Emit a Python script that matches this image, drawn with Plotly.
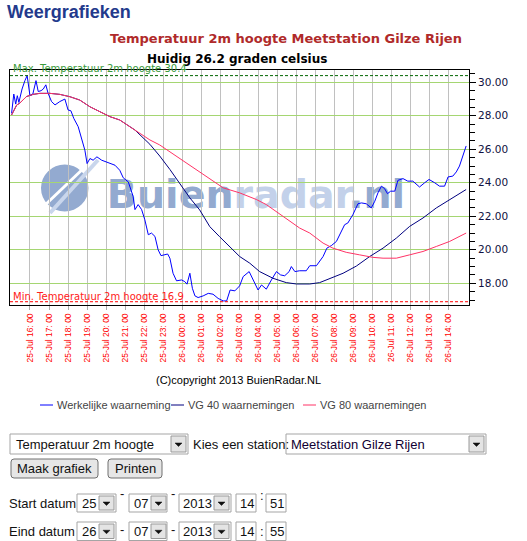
import plotly.graph_objects as go

# ---------------- data ----------------
blue_times = ["2013-07-25 15:02","2013-07-25 15:09","2013-07-25 15:15","2013-07-25 15:20","2013-07-25 15:25","2013-07-25 15:35","2013-07-25 15:44","2013-07-25 15:51","2013-07-25 15:57","2013-07-25 16:00","2013-07-25 16:09","2013-07-25 16:19","2013-07-25 16:26","2013-07-25 16:35","2013-07-25 16:42","2013-07-25 16:50","2013-07-25 16:57","2013-07-25 17:08","2013-07-25 17:19","2013-07-25 17:34","2013-07-25 17:50","2013-07-25 18:00","2013-07-25 18:09","2013-07-25 18:18","2013-07-25 18:32","2013-07-25 18:43","2013-07-25 18:53","2013-07-25 19:00","2013-07-25 19:09","2013-07-25 19:19","2013-07-25 19:31","2013-07-25 19:46","2013-07-25 20:01","2013-07-25 20:28","2013-07-25 20:43","2013-07-25 20:54","2013-07-25 21:10","2013-07-25 21:20","2013-07-25 21:25","2013-07-25 21:31","2013-07-25 21:41","2013-07-25 21:52","2013-07-25 22:02","2013-07-25 22:13","2013-07-25 22:23","2013-07-25 22:34","2013-07-25 22:44","2013-07-25 22:53","2013-07-25 23:05","2013-07-25 23:14","2013-07-25 23:21","2013-07-25 23:31","2013-07-25 23:42","2013-07-25 23:58","2013-07-26 00:08","2013-07-26 00:15","2013-07-26 00:24","2013-07-26 00:32","2013-07-26 00:40","2013-07-26 00:50","2013-07-26 01:06","2013-07-26 01:22","2013-07-26 01:37","2013-07-26 01:53","2013-07-26 02:09","2013-07-26 02:20","2013-07-26 02:31","2013-07-26 02:46","2013-07-26 03:01","2013-07-26 03:12","2013-07-26 03:31","2013-07-26 03:43","2013-07-26 03:59","2013-07-26 04:10","2013-07-26 04:25","2013-07-26 04:41","2013-07-26 04:57","2013-07-26 05:10","2013-07-26 05:23","2013-07-26 05:37","2013-07-26 05:44","2013-07-26 05:55","2013-07-26 06:10","2013-07-26 06:31","2013-07-26 06:42","2013-07-26 07:03","2013-07-26 07:13","2013-07-26 07:24","2013-07-26 07:36","2013-07-26 07:50","2013-07-26 08:06","2013-07-26 08:22","2013-07-26 08:32","2013-07-26 08:42","2013-07-26 08:58","2013-07-26 09:14","2013-07-26 09:25","2013-07-26 09:40","2013-07-26 09:56","2013-07-26 10:07","2013-07-26 10:17","2013-07-26 10:28","2013-07-26 10:38","2013-07-26 10:47","2013-07-26 10:57","2013-07-26 11:10","2013-07-26 11:20","2013-07-26 11:36","2013-07-26 11:51","2013-07-26 12:07","2013-07-26 12:28","2013-07-26 12:44","2013-07-26 12:58","2013-07-26 13:16","2013-07-26 13:31","2013-07-26 13:47","2013-07-26 13:58","2013-07-26 14:13","2013-07-26 14:24","2013-07-26 14:34","2013-07-26 14:45","2013-07-26 14:55"]
blue_values = [28.15,29.3,28.7,29.2,28.8,29.6,30.1,30.4,29.6,29.2,29.3,30.1,29.45,29.5,29.6,29.85,29.35,28.85,28.65,28.85,29.0,28.35,28.3,27.85,27.35,26.55,25.95,25.15,25.45,25.35,25.55,25.35,25.25,25.05,24.75,24.3,24.05,23.55,23.2,22.4,22.7,22.4,21.8,20.9,21.0,20.8,20.0,19.65,19.7,19.75,19.5,18.6,18.15,18.2,18.1,17.95,18.6,17.7,17.25,17.15,17.25,17.4,17.35,17.1,16.95,16.95,17.6,17.55,17.85,18.4,18.7,18.2,17.6,17.9,17.65,18.2,18.7,18.5,18.45,18.7,19.0,18.7,18.75,18.75,19.05,19.05,19.3,19.6,20.1,20.25,20.5,21.1,21.5,21.6,22.1,22.75,22.8,22.75,22.5,22.9,23.4,23.8,23.65,23.35,23.5,23.5,24.15,24.25,24.1,24.1,23.75,24.0,24.2,24.0,23.8,23.8,24.35,24.4,24.65,25.0,25.65,26.2]

vg40_times = ["2013-07-25 15:02","2013-07-25 15:18","2013-07-25 15:28","2013-07-25 15:49","2013-07-25 16:10","2013-07-25 16:31","2013-07-25 17:03","2013-07-25 17:34","2013-07-25 18:06","2013-07-25 18:37","2013-07-25 19:09","2013-07-25 19:40","2013-07-25 20:12","2013-07-25 20:43","2013-07-25 21:15","2013-07-25 21:31","2013-07-25 22:18","2013-07-25 22:49","2013-07-25 23:21","2013-07-25 23:52","2013-07-26 00:24","2013-07-26 00:55","2013-07-26 01:27","2013-07-26 01:58","2013-07-26 02:30","2013-07-26 03:01","2013-07-26 03:33","2013-07-26 04:04","2013-07-26 04:46","2013-07-26 05:28","2013-07-26 06:00","2013-07-26 06:42","2013-07-26 07:13","2013-07-26 07:45","2013-07-26 08:27","2013-07-26 09:09","2013-07-26 09:51","2013-07-26 10:33","2013-07-26 11:15","2013-07-26 11:57","2013-07-26 12:39","2013-07-26 13:21","2013-07-26 14:03","2013-07-26 14:55"]
vg40_values = [28.05,28.64,28.76,29.15,29.28,29.34,29.34,29.28,29.14,28.94,28.54,28.25,27.95,27.75,27.35,27.15,26.3,25.6,24.8,23.97,23.1,22.38,21.38,20.78,20.19,19.6,19.2,18.7,18.3,18.04,17.96,17.96,18.04,18.3,18.6,19.03,19.6,20.1,20.7,21.4,21.9,22.5,23.0,23.6]

vg80_times = ["2013-07-25 15:02","2013-07-25 15:18","2013-07-25 15:28","2013-07-25 15:49","2013-07-25 16:10","2013-07-25 16:31","2013-07-25 17:03","2013-07-25 17:34","2013-07-25 18:06","2013-07-25 18:37","2013-07-25 19:09","2013-07-25 19:40","2013-07-25 20:12","2013-07-25 20:43","2013-07-25 21:15","2013-07-25 21:31","2013-07-25 22:18","2013-07-25 22:49","2013-07-25 23:21","2013-07-25 23:52","2013-07-26 00:24","2013-07-26 00:55","2013-07-26 01:27","2013-07-26 02:09","2013-07-26 03:01","2013-07-26 03:54","2013-07-26 04:25","2013-07-26 04:56","2013-07-26 05:39","2013-07-26 06:10","2013-07-26 06:42","2013-07-26 07:24","2013-07-26 07:55","2013-07-26 08:37","2013-07-26 09:19","2013-07-26 10:01","2013-07-26 10:33","2013-07-26 11:15","2013-07-26 11:57","2013-07-26 12:39","2013-07-26 13:21","2013-07-26 14:03","2013-07-26 14:55"]
vg80_values = [28.05,28.64,28.76,29.15,29.28,29.34,29.34,29.28,29.14,28.94,28.54,28.25,27.95,27.75,27.35,27.15,26.56,26.26,25.85,25.45,25.0,24.6,24.2,23.7,23.4,23.0,22.7,22.3,21.7,21.3,21.0,20.4,20.1,19.85,19.7,19.55,19.5,19.5,19.7,19.9,20.2,20.5,21.0]

max_temp = 30.4
min_temp = 16.9
current_temp = 26.2

tick_times = ["2013-07-25 16:00","2013-07-25 17:00","2013-07-25 18:00","2013-07-25 19:00","2013-07-25 20:00","2013-07-25 21:00","2013-07-25 22:00","2013-07-25 23:00","2013-07-26 00:00","2013-07-26 01:00","2013-07-26 02:00","2013-07-26 03:00","2013-07-26 04:00","2013-07-26 05:00","2013-07-26 06:00","2013-07-26 07:00","2013-07-26 08:00","2013-07-26 09:00","2013-07-26 10:00","2013-07-26 11:00","2013-07-26 12:00","2013-07-26 13:00","2013-07-26 14:00"]
tick_labels = ["25-Jul 16: 00","25-Jul 17: 00","25-Jul 18: 00","25-Jul 19: 00","25-Jul 20: 00","25-Jul 21: 00","25-Jul 22: 00","25-Jul 23: 00","26-Jul 00: 00","26-Jul 01: 00","26-Jul 02: 00","26-Jul 03: 00","26-Jul 04: 00","26-Jul 05: 00","26-Jul 06: 00","26-Jul 07: 00","26-Jul 08: 00","26-Jul 09: 00","26-Jul 10: 00","26-Jul 11: 00","26-Jul 12: 00","26-Jul 13: 00","26-Jul 14: 00"]

series_names = ["Werkelijke waarneming", "VG 40 waarnemingen", "VG 80 waarnemingen"]
series_colors = ["#0000ff", "#000080", "#ff3366"]

# ---------------- layout helpers (window pixels) ----------------
W, H = 527, 541
L, R, T, B = 10, 58, 70, 236
PW = W - L - R
PH = H - T - B


def PX(x):
    return (x - L) / PW


def PY(y):
    return (H - B - y) / PH


fig = go.Figure()
for tx, vy, nm, col in zip([blue_times, vg40_times, vg80_times],
                           [blue_values, vg40_values, vg80_values],
                           series_names, series_colors):
    fig.add_trace(go.Scatter(x=tx, y=vy, mode="lines", name=nm,
                             line=dict(color=col, width=1), showlegend=False))

fig.add_hline(y=max_temp, line=dict(color="#006600", width=1, dash="3px,2px"), layer="above")
fig.add_hline(y=min_temp, line=dict(color="#ff0000", width=1, dash="3px,2px"), layer="above")

shapes = []
ann = []


def text(x, y, s, size=13, color="#000", family="Liberation Sans", xa="left", ya="middle", bold=False):
    if bold:
        s = "<b>" + s + "</b>"
    ann.append(dict(xref="paper", yref="paper", x=PX(x), y=PY(y), text=s, showarrow=False,
                    xanchor=xa, yanchor=ya, borderpad=0, borderwidth=0,
                    font=dict(size=size, color=color, family=family)))


def rect(x0, y0, x1, y1, fill="white", line="#a5a5a5", layer="above", width=1):
    shapes.append(dict(type="rect", xref="paper", yref="paper", x0=PX(x0), x1=PX(x1),
                       y0=PY(y0), y1=PY(y1), fillcolor=fill, line=dict(color=line, width=width),
                       layer=layer))


def rrect(x0, y0, x1, y1, r=3, fill="#e6e6e6", line="#707070"):
    p = (f"M {PX(x0+r)} {PY(y0)} L {PX(x1-r)} {PY(y0)} Q {PX(x1)} {PY(y0)} {PX(x1)} {PY(y0+r)} "
         f"L {PX(x1)} {PY(y1-r)} Q {PX(x1)} {PY(y1)} {PX(x1-r)} {PY(y1)} "
         f"L {PX(x0+r)} {PY(y1)} Q {PX(x0)} {PY(y1)} {PX(x0)} {PY(y1-r)} "
         f"L {PX(x0)} {PY(y0+r)} Q {PX(x0)} {PY(y0)} {PX(x0+r)} {PY(y0)} Z")
    shapes.append(dict(type="path", xref="paper", yref="paper", path=p, fillcolor=fill,
                       line=dict(color=line, width=1)))


def dropbtn(x0, y0, x1, y1):
    rect(x0, y0, x1, y1, fill="#e4e4e4", line="#9a9a9a")
    cx = (x0 + x1) / 2
    cy = (y0 + y1) / 2 + 0.5
    p = f"M {PX(cx-3.5)} {PY(cy-1.5)} L {PX(cx+3.5)} {PY(cy-1.5)} L {PX(cx)} {PY(cy+2)} Z"
    shapes.append(dict(type="path", xref="paper", yref="paper", path=p, fillcolor="#111",
                       line=dict(color="#111", width=0.5)))


# ---------------- watermark (below grid) ----------------
shapes.append(dict(type="circle", xref="paper", yref="paper", x0=PX(41), x1=PX(88.5),
                   y0=PY(211.5), y1=PY(164.5), fillcolor="#93aad0", line=dict(width=0), layer="below"))
shapes.append(dict(type="line", xref="paper", yref="paper", x0=PX(50), y0=PY(213), x1=PX(98), y1=PY(160),
                   line=dict(color="#c9d6ec", width=4), layer="below"))
shapes.append(dict(type="line", xref="paper", yref="paper", x0=PX(44), y0=PY(206), x1=PX(86), y1=PY(166),
                   line=dict(color="#ffffff", width=3), layer="below"))
shapes.append(dict(type="rect", xref="paper", yref="paper", x0=PX(100), x1=PX(412), y0=PY(212), y1=PY(170),
                   line=dict(width=0), fillcolor="rgba(0,0,0,0)", layer="below",
                   label=dict(text="<span style='color:#93aad0'>Buien</span><span style='color:#c3d1ea'>radar</span><span style='color:#93aad0'>.nl</span>",
                              font=dict(size=39.5, family="DejaVu Sans", weight="bold"),
                              textposition="middle center")))

# ---------------- titles ----------------
text(7, 12, "Weergrafieken", size=18, color="#233a8c", bold=True)
text(285.5, 38.5, "Temperatuur 2m hoogte Meetstation Gilze Rijen", size=13, color="#b02a2a",
     family="DejaVu Sans", xa="center", bold=True)
text(237, 58.5, "Huidig 26.2 graden celsius", size=12, color="#000", family="DejaVu Sans",
     xa="center", bold=True)
text(13, 68.5, f"Max. Temperatuur 2m hoogte {max_temp}", size=10, color="#3a9a3a", family="DejaVu Sans")
text(13, 296, f"Min. Temperatuur 2m hoogte {min_temp}", size=10, color="#ff2020", family="DejaVu Sans")
text(238.5, 379.5, "(C)copyright 2013 BuienRadar.NL", size=11, color="#000", xa="center")

# ---------------- legend ----------------
leg_x = [(40, 53, 57), (171, 184, 188), (303, 316, 320)]
for (a, b, tx), nm, col in zip(leg_x, series_names, series_colors):
    shapes.append(dict(type="line", xref="paper", yref="paper", x0=PX(a), x1=PX(b), y0=PY(405), y1=PY(405),
                       line=dict(color=col, width=1)))
    text(tx, 405, nm, size=11, color="#444444")

# ---------------- form controls ----------------
rect(10, 434, 188, 454)
dropbtn(171, 436, 186, 452)
text(16, 444.5, "Temperatuur 2m hoogte", size=13, color="#111")
text(193, 444.5, "Kies een station:", size=13, color="#111")
rect(286, 434, 486, 454)
dropbtn(469, 436, 484, 452)
text(291, 444.5, "Meetstation Gilze Rijen", size=13, color="#110033")

rrect(11, 459, 98, 478)
text(54.5, 468.5, "Maak grafiek", size=13, color="#111", xa="center")
rrect(108, 459, 162, 478)
text(135, 468.5, "Printen", size=13, color="#111", xa="center")

rows = [(494, 512, "Start datum", ["25", "07", "2013", "14", "51"], True),
        (522, 540.5, "Eind datum", ["26", "07", "2013", "14", "55"], False)]
for y0, y1, lab, vals, raised in rows:
    cy = (y0 + y1) / 2
    text(9, cy, lab, size=13, color="#111")
    rect(77, y0, 116, y1); dropbtn(99, y0 + 2, 114, y1 - 2)
    rect(129, y0, 167, y1); dropbtn(151, y0 + 2, 166, y1 - 2)
    rect(179, y0, 231, y1); dropbtn(214, y0 + 2, 229, y1 - 2)
    rect(236, y0, 256, y1)
    rect(266, y0, 286, y1)
    text(82, cy, vals[0], size=13, color="#111")
    text(134, cy, vals[1], size=13, color="#111")
    text(183, cy, vals[2], size=13, color="#111")
    text(240, cy, vals[3], size=13, color="#111")
    text(270, cy, vals[4], size=13, color="#111")
    dy = -10 if raised else -2
    text(122, cy + dy, "-", size=13, color="#111", xa="center")
    text(173, cy + dy, "-", size=13, color="#111", xa="center")
    text(261.5, cy + (-8 if raised else 0), ":", size=13, color="#111", xa="center")

fig.update_layout(
    width=W, height=H,
    margin=dict(l=L, r=R, t=T, b=B, pad=0),
    paper_bgcolor="white", plot_bgcolor="white",
    showlegend=False,
    shapes=list(fig.layout.shapes) + shapes,
    annotations=ann,
    xaxis=dict(range=["2013-07-25 14:57", "2013-07-26 15:04"], tickmode="array",
               tickvals=tick_times, ticktext=tick_labels, tickangle=-90,
               tickfont=dict(size=8.5, color="#ff0000", family="Liberation Sans"),
               showgrid=True, gridcolor="#c0c0c0", gridwidth=1,
               ticks="outside", ticklen=4, tickcolor="#aaaaaa",
               showline=True, linecolor="#000", linewidth=1, mirror=True, zeroline=False),
    yaxis=dict(range=[16.705, 30.735], side="right", dtick=2, tick0=0, tickformat=".2f",
               tickfont=dict(size=10.5, color="#101040", family="DejaVu Sans"),
               showgrid=True, gridcolor="#a5d672", gridwidth=1,
               ticks="outside", ticklen=6, tickcolor="#000",
               minor=dict(dtick=0.5, ticks="outside", ticklen=5, tickcolor="#000", showgrid=False),
               showline=True, linecolor="#000", linewidth=1, mirror=True, zeroline=False),
)

fig.write_html("out.html", config={"displayModeBar": False},
               post_script="document.body.style.margin='0px';")
